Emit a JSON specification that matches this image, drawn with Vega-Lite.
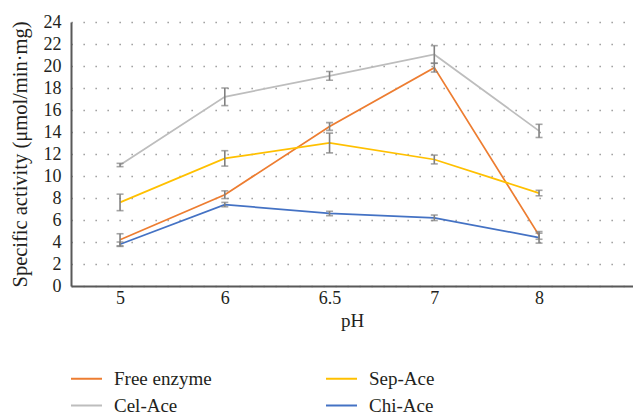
{
  "$schema": "https://vega.github.io/schema/vega-lite/v6.json",
  "autosize": {"type": "none"},
  "padding": {"left": 71, "top": 22, "right": 0, "bottom": 131},
  "width": 562,
  "height": 264,
  "background": "white",
  "config": {
    "view": {"stroke": null},
    "font": "'Liberation Serif', 'Times New Roman', serif",
    "axis": {"labelFont": "'Liberation Serif', 'Times New Roman', serif", "titleFont": "'Liberation Serif', 'Times New Roman', serif", "labelColor": "#231f20", "titleColor": "#231f20", "titleFontWeight": "normal", "labelOverlap": false},
    "legend": {"labelFont": "'Liberation Serif', 'Times New Roman', serif", "labelColor": "#231f20"}
  },
  "data": {
    "values": [
      {"pH": "5", "series": "Free enzyme", "value": 4.2, "lo": 3.65, "hi": 4.75},
      {"pH": "6", "series": "Free enzyme", "value": 8.3, "lo": 7.95, "hi": 8.65},
      {"pH": "6.5", "series": "Free enzyme", "value": 14.5, "lo": 14.15, "hi": 14.85},
      {"pH": "7", "series": "Free enzyme", "value": 19.85, "lo": 19.45, "hi": 20.25},
      {"pH": "8", "series": "Free enzyme", "value": 4.6, "lo": 4.25, "hi": 4.95},
      {"pH": "5", "series": "Cel-Ace", "value": 11.0, "lo": 10.85, "hi": 11.15},
      {"pH": "6", "series": "Cel-Ace", "value": 17.2, "lo": 16.4, "hi": 18.0},
      {"pH": "6.5", "series": "Cel-Ace", "value": 19.1, "lo": 18.7, "hi": 19.5},
      {"pH": "7", "series": "Cel-Ace", "value": 21.05, "lo": 20.25, "hi": 21.85},
      {"pH": "8", "series": "Cel-Ace", "value": 14.1, "lo": 13.5, "hi": 14.7},
      {"pH": "5", "series": "Sep-Ace", "value": 7.6, "lo": 6.85, "hi": 8.35},
      {"pH": "6", "series": "Sep-Ace", "value": 11.6, "lo": 10.9, "hi": 12.3},
      {"pH": "6.5", "series": "Sep-Ace", "value": 13.0, "lo": 12.1, "hi": 13.9},
      {"pH": "7", "series": "Sep-Ace", "value": 11.5, "lo": 11.1, "hi": 11.9},
      {"pH": "8", "series": "Sep-Ace", "value": 8.45, "lo": 8.2, "hi": 8.7},
      {"pH": "5", "series": "Chi-Ace", "value": 3.8, "lo": 3.6, "hi": 4.0},
      {"pH": "6", "series": "Chi-Ace", "value": 7.4, "lo": 7.2, "hi": 7.6},
      {"pH": "6.5", "series": "Chi-Ace", "value": 6.6, "lo": 6.4, "hi": 6.8},
      {"pH": "7", "series": "Chi-Ace", "value": 6.2, "lo": 5.95, "hi": 6.45},
      {"pH": "8", "series": "Chi-Ace", "value": 4.4, "lo": 3.9, "hi": 4.8}
    ]
  },
  "encoding": {
    "x": {
      "field": "pH", "type": "ordinal", "sort": ["5", "6", "6.5", "7", "8"],
      "scale": {"type": "point", "padding": 0.6826, "align": 0.343},
      "axis": {"title": "pH", "labelAngle": 0, "ticks": false, "grid": false, "labelFontSize": 18, "titleFontSize": 19, "labelPadding": 3, "titlePadding": 4, "domainColor": "#595959", "domainWidth": 2}
    }
  },
  "layer": [
    {
      "mark": {"type": "line", "strokeWidth": 1.75},
      "encoding": {
        "y": {
          "field": "value", "type": "quantitative",
          "title": "Specific activity (μmol/min·mg)",
          "scale": {"domain": [0, 24], "nice": false},
          "axis": {
            "values": [0, 2, 4, 6, 8, 10, 12, 14, 16, 18, 20, 22, 24],
            "labelOverlap": false,
            "ticks": false, "labelFontSize": 18, "titleFontSize": 20.5, "labelPadding": 10, "titlePadding": 13,
            "domainColor": "#595959", "domainWidth": 2,
            "grid": true, "gridColor": "#8c8c8c", "gridWidth": 1.3, "gridDash": [1.3, 10.7]
          }
        },
        "color": {
          "field": "series", "type": "nominal",
          "scale": {"domain": ["Free enzyme", "Sep-Ace", "Cel-Ace", "Chi-Ace"], "range": ["#ED7D31", "#FFC000", "#BDBDBD", "#4472C4"]},
          "legend": {
            "title": null, "orient": "none", "legendX": -1, "legendY": 340, "direction": "horizontal",
            "columns": 2, "columnPadding": 110, "rowPadding": -1,
            "symbolType": "stroke", "symbolSize": 961, "symbolStrokeWidth": 2,
            "labelFontSize": 19, "labelOffset": 11, "gridAlign": "all"
          }
        }
      }
    },
    {
      "mark": {"type": "errorbar", "ticks": {"size": 7, "thickness": 1.6}, "color": "#808080", "thickness": 1.6},
      "encoding": {
        "y": {
          "field": "lo", "type": "quantitative", "title": "Specific activity (μmol/min·mg)",
          "axis": {
            "values": [0, 2, 4, 6, 8, 10, 12, 14, 16, 18, 20, 22, 24],
            "labelOverlap": false,
            "ticks": false, "labelFontSize": 18, "titleFontSize": 20.5, "labelPadding": 10, "titlePadding": 13,
            "domainColor": "#595959", "domainWidth": 2,
            "grid": true, "gridColor": "#8c8c8c", "gridWidth": 1.3, "gridDash": [1.3, 10.7]
          }
        },
        "y2": {"field": "hi"}
      }
    }
  ]
}
